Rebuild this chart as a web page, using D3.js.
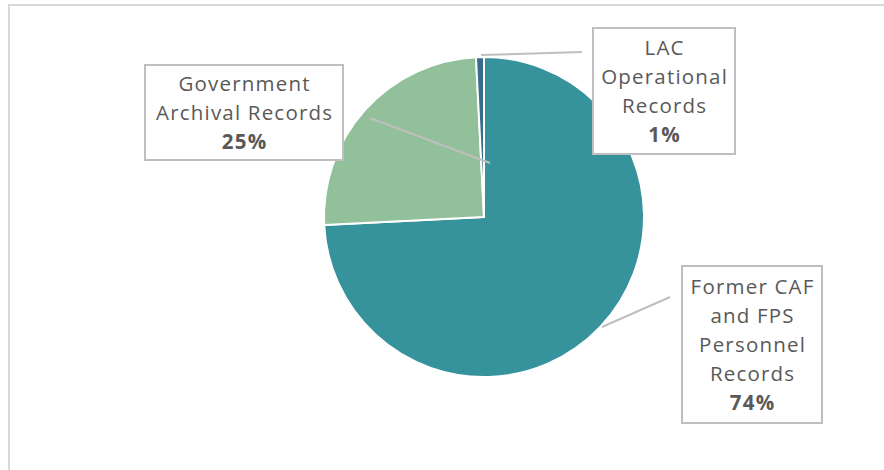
<!DOCTYPE html>
<html><head><meta charset="utf-8">
<script src="https://cdn.jsdelivr.net/npm/d3@7"></script>
<style>body{margin:0;background:#fff}svg{display:block}</style>
</head><body>
<script>
const categories = ["Former CAF and FPS Personnel Records", "Government Archival Records", "LAC Operational Records"];
const values = [74.2, 25.0, 0.8];
const labelLines = [["Former CAF", "and FPS", "Personnel", "Records"], ["Government", "Archival Records"], ["LAC", "Operational", "Records"]];
const percentLabels = ["74%", "25%", "1%"];
const colors = ["#36929B", "#92C09B", "#356E8D"];

const W = 884, H = 470;
const svg = d3.select("body").append("svg").attr("width", W).attr("height", H);

// chart border (extends past the right and bottom edges)
svg.append("path").attr("d", `M9,${H+5} V5 H${W+5}`).attr("fill", "none").attr("stroke", "#d9d9d9").attr("stroke-width", 2);

const cx = 484, cy = 217, R = 160;
const pie = d3.pie().sort(null).value(d => d)(values);
const arc = d3.arc().innerRadius(0).outerRadius(R);
const g = svg.append("g").attr("transform", `translate(${cx},${cy})`);
g.selectAll("path").data(pie).join("path")
  .attr("d", arc).attr("fill", (d, i) => colors[i])
  .attr("stroke", "#fff").attr("stroke-width", 2).attr("stroke-linejoin", "round");

// label layout: box, leader line
const layout = [
  {box: [682, 266, 140, 157], line: [[602, 327], [670, 297]]},
  {box: [145, 65, 198, 95], line: [[490, 163], [370, 118]]},
  {box: [593, 28, 142, 126], line: [[481, 55], [582, 52]]}
];
const lh = 28.8;
const ls = 1.2;
layout.forEach((L, i) => {
  svg.append("polyline").attr("points", L.line.map(p => p.join(",")).join(" "))
    .attr("fill", "none").attr("stroke", "#bfbfbf").attr("stroke-width", 2);
  const [bx, by, bw, bh] = L.box;
  svg.append("rect").attr("x", bx).attr("y", by).attr("width", bw).attr("height", bh)
    .attr("fill", "#fff").attr("stroke", "#bfbfbf").attr("stroke-width", 2);
  const lines = labelLines[i].concat([percentLabels[i]]);
  const n = lines.length;
  const mid = by + bh / 2;
  const first = mid - (n - 1) * lh / 2 + 7.5;
  const t = svg.append("text").attr("text-anchor", "middle")
    .attr("font-family", "'Open Sans', sans-serif").attr("font-size", 20.5)
    .attr("letter-spacing", ls).attr("fill", "#595959");
  lines.forEach((s, j) => {
    t.append("tspan").attr("x", bx + bw / 2 + ls / 2).attr("y", first + j * lh)
      .attr("font-weight", j === n - 1 ? "bold" : "normal").text(s);
  });
});
</script>
</body></html>
